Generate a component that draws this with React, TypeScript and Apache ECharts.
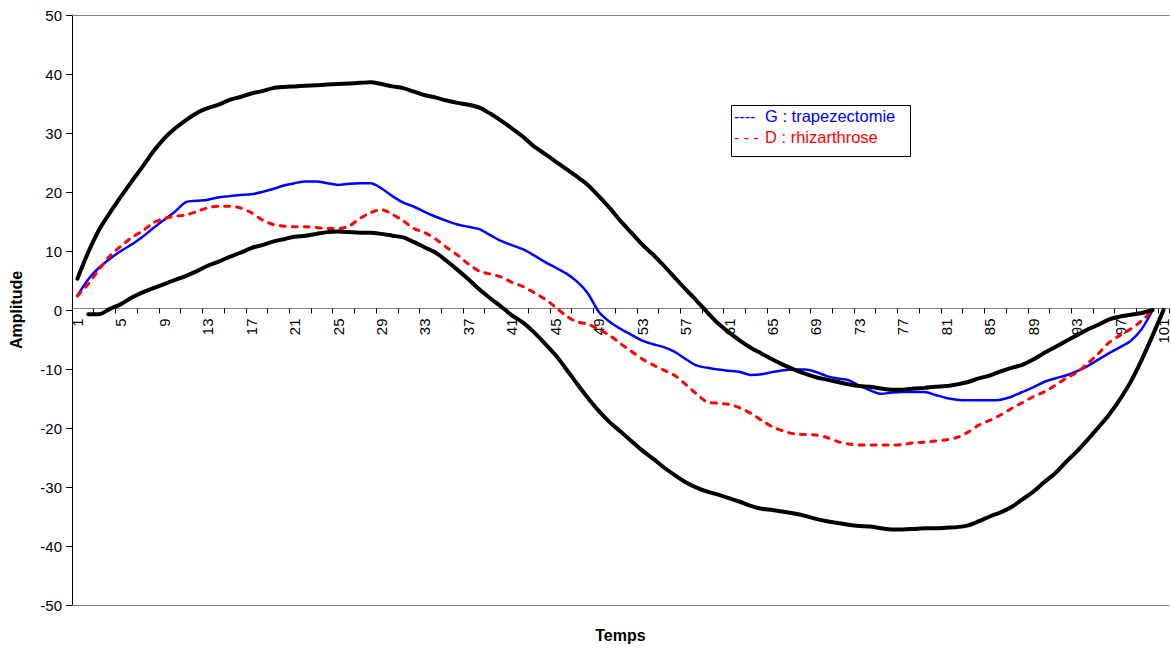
import React, { useEffect, useRef } from "react";
import * as echarts from "echarts";

const categories: string[] = Array.from({ length: 101 }, (_, i) => String(i + 1));

const upperBound: (number | null)[] = [
  5.3, 9.8, 13.6, 16.5, 19.2, 21.8, 24.3, 26.9, 29.1, 30.8,
  32.2, 33.4, 34.2, 34.8, 35.6, 36.1, 36.7, 37.1, 37.6, 37.8,
  37.9, 38.0, 38.1, 38.2, 38.3, 38.4, 38.5, 38.6, 38.3, 37.9,
  37.6, 37.0, 36.4, 36.0, 35.5, 35.1, 34.8, 34.3, 33.3, 32.1,
  30.8, 29.4, 27.8, 26.5, 25.2, 23.9, 22.6, 21.2, 19.3, 17.3,
  15.1, 13.1, 11.1, 9.4, 7.5, 5.5, 3.5, 1.6, -0.4, -2.3,
  -3.8, -5.2, -6.4, -7.4, -8.4, -9.3, -10.1, -10.8, -11.4, -11.8,
  -12.2, -12.6, -12.9, -13.0, -13.3, -13.5, -13.5, -13.3, -13.2, -13.0,
  -12.9, -12.6, -12.2, -11.6, -11.1, -10.4, -9.8, -9.3, -8.4, -7.3,
  -6.3, -5.3, -4.3, -3.3, -2.5, -1.6, -1.1, -0.8, -0.5, 0, null,
];

const lowerBound: (number | null)[] = [
  null, -0.7, -0.7, 0.2, 1.0, 2.1, 3.0, 3.7, 4.4, 5.1,
  5.8, 6.6, 7.5, 8.2, 9.0, 9.7, 10.5, 11.0, 11.6, 12.0,
  12.4, 12.6, 12.9, 13.2, 13.3, 13.2, 13.1, 13.1, 12.9, 12.6,
  12.3, 11.5, 10.6, 9.7, 8.3, 6.8, 5.2, 3.5, 2.0, 0.6,
  -0.9, -2.1, -3.7, -5.6, -7.6, -10.0, -12.5, -14.9, -17.1, -19.0,
  -20.6, -22.2, -23.8, -25.2, -26.7, -28.0, -29.2, -30.1, -30.8, -31.3,
  -31.9, -32.5, -33.2, -33.7, -33.9, -34.2, -34.5, -34.9, -35.4, -35.8,
  -36.1, -36.4, -36.6, -36.7, -37.0, -37.2, -37.2, -37.1, -37.0, -37.0,
  -36.9, -36.8, -36.5, -35.8, -35.0, -34.3, -33.4, -32.1, -30.8, -29.2,
  -27.7, -25.8, -24.0, -22.0, -19.9, -17.7, -15.1, -12.1, -8.4, -4.3, 0,
];

const trapezectomie: (number | null)[] = [
  2.4, 5.2, 7.2, 8.7, 10.0, 11.1, 12.4, 13.9, 15.3, 16.7,
  18.3, 18.5, 18.7, 19.1, 19.3, 19.5, 19.6, 20.0, 20.5, 21.1,
  21.5, 21.8, 21.8, 21.5, 21.2, 21.4, 21.5, 21.5, 20.6, 19.3,
  18.2, 17.5, 16.6, 15.8, 15.1, 14.5, 14.1, 13.7, 12.7, 11.7,
  11.0, 10.3, 9.3, 8.2, 7.2, 6.2, 4.8, 2.8, -0.3, -2.0,
  -3.2, -4.2, -5.2, -5.8, -6.3, -7.1, -8.3, -9.4, -9.8, -10.1,
  -10.3, -10.5, -11.0, -10.9, -10.5, -10.2, -10.1, -10.1, -10.5, -11.2,
  -11.6, -11.9, -12.8, -13.6, -14.2, -14.0, -13.9, -13.9, -13.9, -14.4,
  -14.9, -15.2, -15.3, -15.3, -15.3, -15.2, -14.7, -13.9, -13.1, -12.2,
  -11.6, -11.1, -10.4, -9.5, -8.4, -7.3, -6.3, -5.2, -3.2, 0, null,
];

const rhizarthrose: (number | null)[] = [
  2.4, 4.4, 6.9, 9.2, 10.8, 12.3, 13.4, 14.8, 15.5, 15.9,
  16.1, 16.7, 17.3, 17.6, 17.6, 17.3, 16.5, 15.3, 14.5, 14.2,
  14.1, 14.1, 14.0, 13.8, 13.8, 14.2, 15.5, 16.5, 17.0, 16.2,
  15.1, 13.8, 13.1, 12.0, 10.6, 9.3, 7.8, 6.6, 6.1, 5.6,
  4.7, 4.0, 3.0, 1.9, 0.5, -1.0, -2.0, -2.4, -3.3, -4.3,
  -5.7, -7.0, -8.3, -9.3, -10.2, -11.1, -12.6, -14.2, -15.6, -15.8,
  -16.0, -16.6, -17.5, -18.7, -19.8, -20.5, -21.0, -21.1, -21.2, -21.6,
  -22.3, -22.7, -22.9, -22.9, -22.9, -22.9, -22.8, -22.5, -22.4, -22.2,
  -22.0, -21.6, -20.7, -19.5, -18.7, -17.8, -16.7, -15.7, -14.7, -13.9,
  -12.8, -11.6, -10.6, -9.1, -7.4, -5.5, -4.3, -3.2, -1.8, 0, null,
];

const legendRows = [
  { marker: "----", label: "G : trapezectomie", color: "#0000FF" },
  { marker: "- - -", label: "D : rhizarthrose", color: "#FF0000" },
];

const FONT = '"Liberation Sans", Arial, sans-serif';

const GRID_TOP = 15;
const GRID_BOTTOM = 40;
const CHART_H = 648;

export default function App() {
  const ref = useRef<HTMLDivElement>(null);

  useEffect(() => {
    document.body.style.margin = "0";
    if (!ref.current) return;
    const chart = echarts.init(ref.current, undefined, { renderer: "svg" });

    const plotH = CHART_H - GRID_TOP - GRID_BOTTOM;
    const zeroOffset = -plotH / 2; // axis at value 0 (range -50..50)

    const legendElements: any[] = [
      {
        type: "rect",
        left: 731,
        top: 105,
        shape: { width: 179, height: 51 },
        style: { fill: "#ffffff", stroke: "#000000", lineWidth: 1 },
        z: 100,
      },
    ];
    legendRows.forEach((r, i) => {
      legendElements.push({
        type: "text",
        x: 734,
        y: 116 + i * 21,
        style: { text: r.marker, fill: r.color, font: `16px ${FONT}`, textVerticalAlign: "middle" },
        z: 101,
      });
      legendElements.push({
        type: "text",
        x: 765,
        y: 116 + i * 21,
        style: { text: r.label, fill: r.color, font: `16.5px ${FONT}`, textVerticalAlign: "middle" },
        z: 101,
      });
    });

    const line = (name: string, data: (number | null)[], color: string, width: number, type: any, z: number) => ({
      name,
      type: "line",
      data,
      xAxisIndex: 0,
      yAxisIndex: 0,
      showSymbol: false,
      symbol: "none",
      smooth: 0.3,
      connectNulls: false,
      z,
      lineStyle: { color, width, type, cap: "round", join: "round" },
    });

    chart.setOption({
      animation: false,
      backgroundColor: "#ffffff",
      textStyle: { fontFamily: FONT },
      grid: { left: 70, right: 1, top: GRID_TOP, bottom: GRID_BOTTOM, containLabel: false },
      xAxis: [
        {
          type: "category",
          data: categories,
          boundaryGap: true,
          position: "bottom",
          offset: zeroOffset,
          axisLine: { onZero: false, lineStyle: { color: "#808080", width: 1 } },
          axisTick: { show: true, interval: 1, length: 5, lineStyle: { color: "#000000" } },
          axisLabel: {
            interval: 3,
            rotate: 90,
            margin: 10,
            fontSize: 15,
            color: "#000000",
            fontFamily: FONT,
          },
          splitLine: { show: false },
        },
        {
          type: "category",
          data: categories,
          position: "bottom",
          axisLine: { onZero: false, lineStyle: { color: "#808080", width: 1 } },
          axisTick: { show: false },
          axisLabel: { show: false },
          name: "Temps",
          nameLocation: "middle",
          nameGap: 22,
          nameTextStyle: { fontWeight: "bold", fontSize: 16, color: "#000000", fontFamily: FONT },
        },
        {
          type: "category",
          data: categories,
          position: "top",
          axisLine: { onZero: false, lineStyle: { color: "#808080", width: 1 } },
          axisTick: { show: false },
          axisLabel: { show: false },
        },
      ],
      yAxis: {
        type: "value",
        min: -50,
        max: 50,
        interval: 10,
        axisLine: { show: true, onZero: false, lineStyle: { color: "#000000", width: 1 } },
        axisTick: { show: true, length: 6, lineStyle: { color: "#000000" } },
        axisLabel: { margin: 10, fontSize: 15, color: "#000000", fontFamily: FONT },
        splitLine: { show: false },
        name: "Amplitude",
        nameLocation: "middle",
        nameGap: 48,
        nameTextStyle: { fontWeight: "bold", fontSize: 16, color: "#000000", fontFamily: FONT },
      },
      series: [
        line("G : trapezectomie", trapezectomie, "#0000FF", 2.5, "solid", 3),
        line("D : rhizarthrose", rhizarthrose, "#FF0000", 3, [5, 7], 4),
        line("Borne supérieure", upperBound, "#000000", 4, "solid", 5),
        line("Borne inférieure", lowerBound, "#000000", 4, "solid", 5),
      ],
      graphic: legendElements,
    });

    return () => {
      chart.dispose();
    };
  }, []);

  return <div ref={ref} style={{ width: 1171, height: 648 }} />;
}
